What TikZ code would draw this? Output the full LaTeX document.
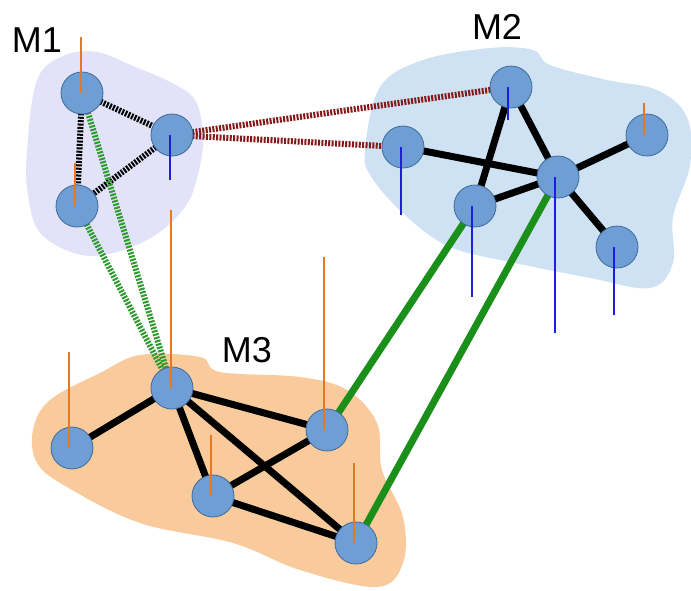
\documentclass[tikz,border=0pt]{standalone}
\usepackage{fontspec}
\setmainfont{Liberation Sans}
\usetikzlibrary{positioning}

\definecolor{blobA}{HTML}{E2E2F9}
\definecolor{blobB}{HTML}{CFE2F3}
\definecolor{blobC}{HTML}{F9CB9C}
\definecolor{unitfill}{HTML}{6E9ED3}
\definecolor{unitline}{HTML}{3F6A9A}
\definecolor{stickor}{HTML}{E87722}
\definecolor{stickbl}{HTML}{1E1EE0}
\definecolor{bridge}{HTML}{1A8F1A}
\definecolor{weakgr}{HTML}{2E9A2E}
\definecolor{weakrd}{HTML}{851818}

\tikzset{
	unit/.style={circle, fill=unitfill, draw=unitline, line width=0.8pt, minimum size=42pt, inner sep=0pt},
	link/.style={line width=7pt, black},
	bridgelink/.style={line width=7pt, bridge},
	weak/.style={line width=6pt, dash pattern=on 2pt off 1.4pt},
	up/.style={line width=2.5pt, stickor},
	down/.style={line width=2.5pt, stickbl},
	label/.style={font=\fontsize{36}{36}\selectfont, inner sep=0pt}
}

\begin{document}
\begin{tikzpicture}[x=1pt, y=-1pt]
	\useasboundingbox (0,0) rectangle (691,590);

	% modules
	\fill[blobA] plot[smooth cycle, tension=0.6] coordinates {(27,150) (37,80) (63,56) (97,52) (133,66) (170,82) (195,100) (203,135) (199,170) (185,207) (147,240) (90,256) (42,235) (28,195)};
	\fill[blobB] plot[smooth cycle, tension=0.6] coordinates {(365,150) (380,87) (423,60) (490,48) (533,50) (550,65) (607,80) (657,90) (687,117) (690,165) (673,217) (673,263) (650,288) (590,278) (510,262) (450,247) (407,217) (372,178)};
	\fill[blobC] plot[smooth cycle, tension=0.6] coordinates {(33,430) (50,400) (100,373) (140,355) (200,357) (220,372) (300,377) (347,390) (377,423) (382,470) (403,517) (403,563) (377,587) (300,570) (233,543) (140,523) (67,487) (37,463)};

	\node[label]	(M1)	at (37,40)	{M1};
	\node[label]	(M2)	at (497,27)	{M2};
	\node[label]	(M3)	at (247,350)	{M3};

	\coordinate	(a1)	at (82,93);
	\coordinate	(a2)	at (172,135);
	\coordinate	(a3)	at (77,206);
	\coordinate	(b1)	at (511,87);
	\coordinate	(b2)	at (403,147);
	\coordinate	(b3)	at (475,206);
	\coordinate	(b4)	at (558,177);
	\coordinate	(b5)	at (647,135);
	\coordinate	(b6)	at (617,247);
	\coordinate	(c1)	at (172,388);
	\coordinate	(c2)	at (72,448);
	\coordinate	(c3)	at (327,430);
	\coordinate	(c4)	at (213,496);
	\coordinate	(c5)	at (356,543);

	% links
	\draw[weak, black]	(a1) -- (a2);
	\draw[weak, black]	(a1) -- (a3);
	\draw[weak, black]	(a2) -- (a3);
	\draw[weak, weakgr]	(a1) -- (c1);
	\draw[weak, weakgr]	(a3) -- (c1);
	\draw[weak, weakrd]	(a2) -- (b1);
	\draw[weak, weakrd]	(a2) -- (b2);

	\draw[link]	(b1) -- (b3);
	\draw[link]	(b1) -- (b4);
	\draw[link]	(b2) -- (b4);
	\draw[link]	(b3) -- (b4);
	\draw[link]	(b4) -- (b5);
	\draw[link]	(b4) -- (b6);

	\draw[link]	(c1) -- (c2);
	\draw[link]	(c1) -- (c3);
	\draw[link]	(c1) -- (c4);
	\draw[link]	(c1) -- (c5);
	\draw[link]	(c4) -- (c3);
	\draw[link]	(c4) -- (c5);

	\draw[bridgelink]	(b3) -- (c3);
	\draw[bridgelink]	(b4) -- (c5);

	% units
	\node[unit]	(u-a1)	at (a1)	{};
	\node[unit]	(u-a2)	at (a2)	{};
	\node[unit]	(u-a3)	at (a3)	{};
	\node[unit]	(u-b1)	at (b1)	{};
	\node[unit]	(u-b2)	at (b2)	{};
	\node[unit]	(u-b3)	at (b3)	{};
	\node[unit]	(u-b4)	at (b4)	{};
	\node[unit]	(u-b5)	at (b5)	{};
	\node[unit]	(u-b6)	at (b6)	{};
	\node[unit]	(u-c1)	at (c1)	{};
	\node[unit]	(u-c2)	at (c2)	{};
	\node[unit]	(u-c3)	at (c3)	{};
	\node[unit]	(u-c4)	at (c4)	{};
	\node[unit]	(u-c5)	at (c5)	{};

	% sticks
	\draw[up]	([xshift=-1pt]a1) -- ++(0,-56);
	\draw[down]	([xshift=-2pt]a2) -- ++(0,45);
	\draw[up]	([xshift=-2pt]a3) -- ++(0,-43);
	\draw[down]	([xshift=-3pt]b1) -- ++(0,33);
	\draw[down]	([xshift=-2pt]b2) -- ++(0,68);
	\draw[down]	([xshift=-3pt]b3) -- ++(0,91);
	\draw[down]	([xshift=-3pt]b4) -- ++(0,156);
	\draw[up]	([xshift=-3pt]b5) -- ++(0,-32);
	\draw[down]	([xshift=-3pt]b6) -- ++(0,68);
	\draw[up]	([xshift=-1pt]c1) -- ++(0,-178);
	\draw[up]	([xshift=-3pt]c2) -- ++(0,-96);
	\draw[up]	([xshift=-3pt]c3) -- ++(0,-173);
	\draw[up]	([xshift=-2pt]c4) -- ++(0,-61);
	\draw[up]	([xshift=-2pt]c5) -- ++(0,-80);

\end{tikzpicture}
\end{document}
